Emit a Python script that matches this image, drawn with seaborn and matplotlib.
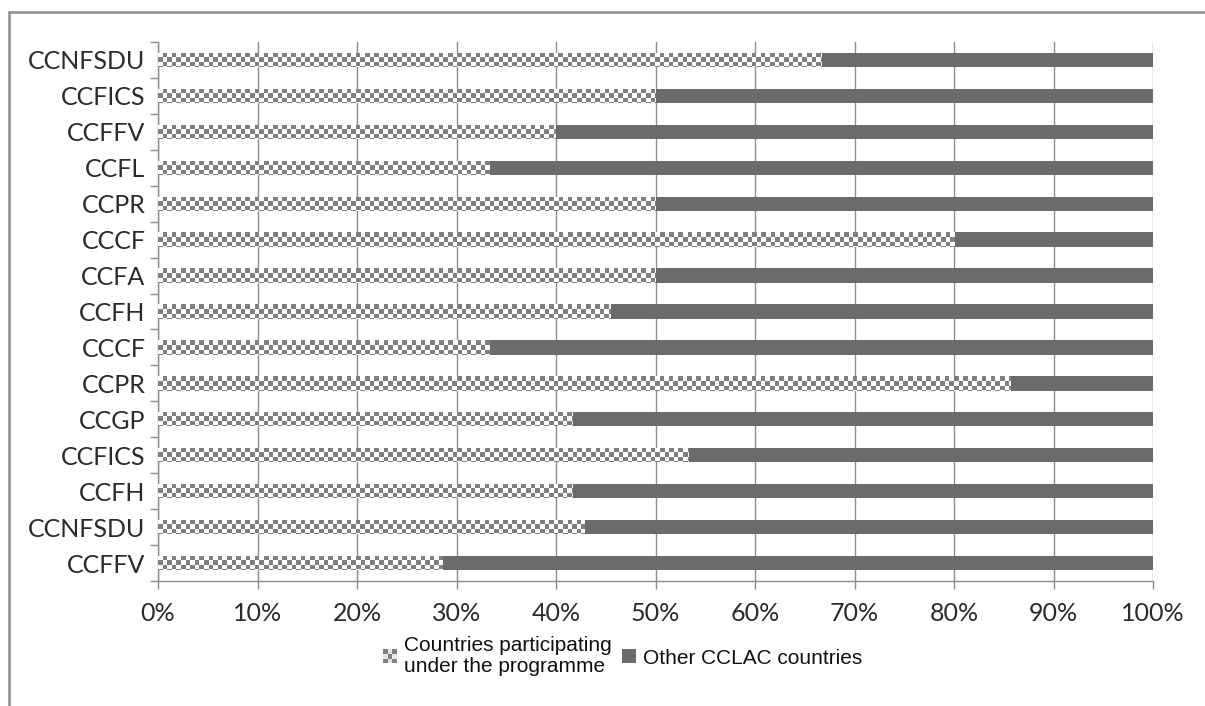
import numpy as np
import pandas as pd
import matplotlib
matplotlib.use("Agg")
import matplotlib.pyplot as plt
import seaborn as sns
from matplotlib.colors import ListedColormap
from matplotlib.legend_handler import HandlerBase
from matplotlib.patches import Rectangle, Patch
from matplotlib.lines import Line2D

# ---------------- data ----------------
categories = ["CCNFSDU", "CCFICS", "CCFFV", "CCFL", "CCPR", "CCCF", "CCFA", "CCFH",
              "CCCF", "CCPR", "CCGP", "CCFICS", "CCFH", "CCNFSDU", "CCFFV"]
participating = [66.7, 50.0, 40.0, 33.3, 50.0, 80.0, 50.0, 45.5,
                 33.3, 85.7, 41.7, 53.3, 41.7, 42.9, 28.6]
other = [100 - v for v in participating]
xtick_values = list(range(0, 101, 10))
xtick_labels = [f"{v}%" for v in xtick_values]
legend_labels = ["Countries participating\nunder the programme", "Other CCLAC countries"]

DARK = "#6b6b6b"
CHECK = "#808080"
GRID = "#8c8c8c"
TXT = "#2a2a2a"

df = pd.DataFrame({
    "row": [str(i) for i in range(len(categories))],
    "participating": participating,
    "other": other,
})
df["total"] = df["participating"] + df["other"]

sns.set_theme(style="white")
plt.rcParams["font.family"] = ["Lato", "DejaVu Sans"]

fig = plt.figure(figsize=(12.05, 7.06), dpi=100)
ax = fig.add_axes([158 / 1205, 1 - 581 / 706, (1153 - 158) / 1205, (581 - 42) / 706])

sns.barplot(data=df, y="row", x="total", orient="h", color=DARK, saturation=1,
            width=0.4, ax=ax, zorder=2, linewidth=0)
sns.barplot(data=df, y="row", x="participating", orient="h", color="white", saturation=1,
            width=0.4, ax=ax, zorder=3, linewidth=0)

ax.set_xlim(0, 100)
ax.set_ylim(len(categories) - 0.5, -0.5)

# checkerboard texture inside participating bars
check_patches = ax.containers[1].patches
cmap = ListedColormap(["white", CHECK])
sq = 4.6  # pixel size of a checker cell
fig.canvas.draw()
for p in check_patches:
    x0, y0 = p.get_x(), p.get_y()
    w, h = p.get_width(), p.get_height()
    (px0, py0) = ax.transData.transform((x0, y0))
    (px1, py1) = ax.transData.transform((x0 + w, y0 + h))
    wpx, hpx = abs(px1 - px0), abs(py1 - py0)
    nc = int(np.ceil(wpx / sq)) + 1
    nr = int(np.ceil(hpx / sq)) + 1
    arr = (np.add.outer(np.arange(nr), np.arange(nc)) % 2).astype(float)
    dx = sq * w / wpx
    dy = sq * h / hpx
    im = ax.imshow(arr, cmap=cmap, interpolation="nearest", aspect="auto",
                   extent=[x0, x0 + nc * dx, y0 + nr * dy, y0], zorder=3.5, vmin=0, vmax=1)
    im.set_clip_path(p)

ax.set_xlim(0, 100)
ax.set_ylim(len(categories) - 0.5, -0.5)

# axes styling
ax.set_xlabel("")
ax.set_ylabel("")
ax.set_xticks(xtick_values)
ax.set_xticklabels(xtick_labels, fontsize=18, color=TXT)
ax.set_yticks(range(len(categories)))
ax.set_yticklabels(categories, fontsize=18, color=TXT)
ax.set_yticks(np.arange(-0.5, len(categories), 1.0), minor=True)
ax.tick_params(axis="y", which="major", length=0, pad=9)
ax.tick_params(axis="y", which="minor", length=6, width=1, color=GRID, left=True)
ax.tick_params(axis="x", which="major", length=6, width=1, color=GRID, bottom=True, pad=9)
ax.xaxis.grid(True, color=GRID, linewidth=1)
ax.yaxis.grid(False)
ax.set_axisbelow(True)
for s in ["top", "right"]:
    ax.spines[s].set_visible(False)
for s in ["left", "bottom"]:
    ax.spines[s].set_color(GRID)
    ax.spines[s].set_linewidth(1)


class CheckerHandler(HandlerBase):
    def create_artists(self, legend, orig_handle, xdescent, ydescent, width, height,
                       fontsize, trans):
        n = 3
        cw, ch = width / n, height / n
        arts = []
        for i in range(n):
            for j in range(n):
                col = CHECK if (i + j) % 2 == 0 else "#e6e6e6"
                r = Rectangle((-xdescent + j * cw, -ydescent + i * ch), cw, ch,
                              facecolor=col, edgecolor="none", transform=trans)
                arts.append(r)
        return arts


h1 = Patch(facecolor=CHECK)
h2 = Patch(facecolor=DARK, edgecolor="none")
leg = fig.legend([h1, h2], legend_labels, loc="center",
                 bbox_to_anchor=(623 / 1205, 1 - 656 / 706), ncol=2, frameon=False,
                 handler_map={h1: CheckerHandler()}, handlelength=0.65, handleheight=0.65,
                 handletextpad=0.35, columnspacing=0.5, labelspacing=0.1,
                 prop={"family": ["Liberation Sans"], "size": 15})
for t in leg.get_texts():
    t.set_color("#111111")
    t.set_linespacing(1.1)

# outer frame
fig.add_artist(Line2D([9 / 1205, 9 / 1205], [0, 1 - 12 / 706], transform=fig.transFigure,
                      color=GRID, linewidth=1.8))
fig.add_artist(Line2D([9 / 1205, 1], [1 - 12 / 706, 1 - 12 / 706], transform=fig.transFigure,
                      color=GRID, linewidth=1.8))

fig.savefig("out.png", dpi=100)
